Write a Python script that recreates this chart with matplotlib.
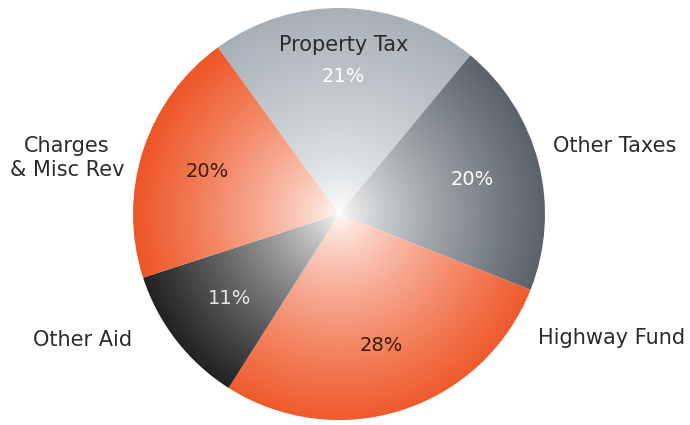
import numpy as np
import matplotlib
matplotlib.use("Agg")
import matplotlib.pyplot as plt
from matplotlib.colors import to_rgb

# Revenue shares
categories = ["Property Tax", "Other Taxes", "Highway Fund", "Other Aid", "Charges\n& Misc Rev"]
shares = [21, 20, 28, 11, 20]

# Rim colour of each slice (fades to white toward the centre)
rim_colors = ["#a8b0b7", "#5a626b", "#ef5a2c", "#222222", "#ee5526"]
pct_colors = ["#ffffff", "#ffffff", "#3b1a10", "#e6e6e6", "#3b1a10"]

# Category label anchor points (figure pixel space, y up)
label_pos = [(344, 380), (615, 279), (612, 87), (83, 85), (67, 267)]

fig = plt.figure(figsize=(6.9, 4.25), dpi=100)
ax = fig.add_axes([0, 0, 1, 1])

cx, cy, R = 339, 211, 206
wedges, _, autotexts = ax.pie(
    shares, startangle=126, counterclock=False, center=(cx, cy), radius=R,
    autopct=lambda p: f"{p:.0f}%", pctdistance=0.67,
    wedgeprops=dict(linewidth=0),
    textprops=dict(fontsize=14, family="DejaVu Sans"))

ax.set_xlim(0, 690)
ax.set_ylim(0, 425)
ax.set_aspect("equal")
ax.axis("off")

# Radial white-to-colour fill for each wedge
n = 700
xs = np.linspace(cx - R, cx + R, n)
ys = np.linspace(cy - R, cy + R, n)
X, Y = np.meshgrid(xs, ys)
t = np.clip(np.hypot(X - cx, Y - cy) / R, 0, 1) ** 0.72
for w, col in zip(wedges, rim_colors):
    c = np.array(to_rgb(col))
    img = (1 - t)[..., None] * np.ones(3) + t[..., None] * c
    w.set_facecolor("none")
    im = ax.imshow(img, extent=(cx - R, cx + R, cy - R, cy + R), origin="lower",
                   interpolation="bilinear", zorder=1)
    im.set_clip_path(w)

for txt, col in zip(autotexts, pct_colors):
    txt.set_color(col)
    txt.set_zorder(5)

for name, (x, y) in zip(categories, label_pos):
    ax.text(x, y, name, ha="center", va="center", fontsize=15,
            color="#2b2b2b", linespacing=1.2, zorder=5, family="DejaVu Sans")

fig.savefig("out.png", dpi=100, facecolor="white")
